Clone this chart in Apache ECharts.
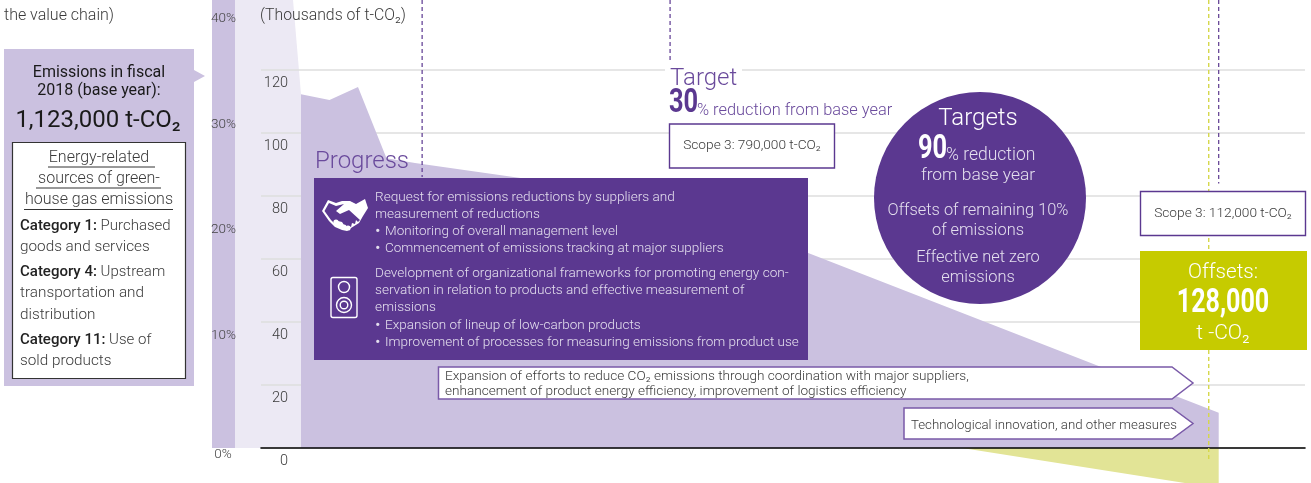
<!DOCTYPE html>
<html>
<head>
<meta charset="utf-8">
<style>html,body{margin:0;padding:0;background:#fff}#c{width:1311px;height:483px}</style>
<script src="https://cdn.jsdelivr.net/npm/echarts@6/dist/echarts.min.js"></script>
</head>
<body>
<div id="c"></div>
<script>
// Timeline position of each reading (steps along the unlabelled x axis)
const timeline = [0, 1, 2, 3, 4, 12.95, 32.2];
const scope3Emissions = [112.3, 110.5, 114.6, 92, 90.5, 79, 11.2];
const paleX = [-2.316, -0.28, 0, 0];
const paleY = [142.2, 142.2, 112.3, 0];
const stripX = [-3.1228, -2.316];
const stripY = [42.42, 42.42];
const offsetX = [23.2, 32.2];
const offsetY = [0, -12.8];
const yTicks = [0, 20, 40, 60, 80, 100, 120];
const shareTicks = [10, 20, 30, 40];
const progressMarkX = 4.25;
const targetMarkX = 12.95;
const offsetMarkX = 31.85;
const finalMarkX = 32.2;

const FONT = 'Roboto';
const PURPLE = '#5b3890';
const LILAC = '#cbc1e0';
const PALE = '#ece9f4';
const OLIVE = '#c6cb00';
const TXT = '#3a3a3a';
const LT = '#e4dfee';

function zip(a, b) { return a.map((v, i) => [v, b[i]]); }
function t(x, y, text, size, fill, o) {
  o = o || {};
  return { type: 'text', z: o.z || 60, x: x, y: y + 1, scaleX: o.scaleX || 1,
    style: Object.assign({ text: text, fill: fill || TXT, fontFamily: FONT, fontSize: size,
      fontWeight: o.weight || 300, textAlign: o.align || 'left', textVerticalAlign: 'middle', verticalAlign: 'middle' }, o.extra || {}) };
}
function box(x, y, w, h, fill, stroke, lw, z) {
  return { type: 'rect', z: z || 50, shape: { x: x, y: y, width: w, height: h },
    style: { fill: fill, stroke: stroke || null, lineWidth: lw || 0 } };
}
function hline(x1, x2, y, col, lw) {
  return { type: 'line', z: 60, shape: { x1: x1, y1: y, x2: x2, y2: y }, style: { stroke: col, lineWidth: lw } };
}
function arrow(x, y1, y2, sx, tip) {
  return { type: 'polygon', z: 50,
    shape: { points: [[x, y1], [sx, y1], [tip, (y1 + y2) / 2], [sx, y2], [x, y2]] },
    style: { fill: '#fff', stroke: '#7a5aa8', lineWidth: 1.5 } };
}
function poly(ox, oy, pts, fill, z) {
  return { type: 'polygon', z: z, shape: { points: pts.map(p => [ox + p[0], oy + p[1]]) }, style: { fill: fill } };
}

const g = [];
// left panel
g.push(t(4, 14.5, 'the value chain)', 16, TXT));
g.push(box(4, 49, 190, 337, LILAC));
g.push({ type: 'polygon', z: 50, shape: { points: [[194, 70], [205, 76], [194, 82]] }, style: { fill: LILAC } });
g.push(t(99, 71.5, 'Emissions in fiscal', 16, '#1a1a1a', { align: 'center', weight: 400 }));
g.push(t(99, 89.5, '2018 (base year):', 16, '#1a1a1a', { align: 'center', weight: 400 }));
g.push(t(98, 120, '1,123,000 t-CO₂', 24, '#1a1a1a', { align: 'center', weight: 400 }));
g.push(box(12.5, 142.5, 173, 236, '#fff', '#333', 1.2));
g.push(t(99, 157, 'Energy-related', 16, TXT, { align: 'center' }));
g.push(t(99, 178, 'sources of green-', 16, TXT, { align: 'center' }));
g.push(t(99, 199, 'house gas emissions', 16, TXT, { align: 'center' }));
g.push(hline(48, 155, 167, '#333', 1));
g.push(hline(36, 161, 188, '#333', 1));
g.push(hline(24, 173, 209.5, '#333', 1));
const catRich = { b: { fontFamily: FONT, fontSize: 15, fontWeight: 500, fill: '#222' }, n: { fontFamily: FONT, fontSize: 15, fontWeight: 300, fill: TXT } };
function cat(y, a, b) {
  return { type: 'text', z: 60, x: 20, y: y + 1, style: { text: '{b|' + a + '}{n|' + b + '}', rich: catRich, verticalAlign: 'middle', textVerticalAlign: 'middle', fontFamily: FONT, fontSize: 15 } };
}
g.push(cat(225, 'Category 1:', ' Purchased'));
g.push(t(20, 246, 'goods and services', 15.3, TXT));
g.push(cat(271, 'Category 4:', ' Upstream'));
g.push(t(20, 292, 'transportation and', 15.3, TXT));
g.push(t(20, 314, 'distribution', 15.3, TXT));
g.push(cat(339, 'Category 11:', ' Use of'));
g.push(t(20, 360, 'sold products', 15.3, TXT));
// misc
g.push(t(223, 453.5, '0%', 13.5, '#444', { align: 'center' }));
g.push(t(260, 15.5, '(Thousands of t-CO₂)', 15.8, TXT));
g.push(t(315, 161, 'Progress', 24, '#6a4a9c', { z: 70 }));
// progress box
g.push(box(314, 178, 494, 182, PURPLE));
const ptxt = [
  [197, 'Request for emissions reductions by suppliers and'],
  [214, 'measurement of reductions'],
  [231, '• Monitoring of overall management level'],
  [248, '• Commencement of emissions tracking at major suppliers'],
  [273, 'Development of organizational frameworks for promoting energy con-'],
  [290, 'servation in relation to products and effective measurement of'],
  [307, 'emissions'],
  [325, '• Expansion of lineup of low-carbon products'],
  [342, '• Improvement of processes for measuring emissions from product use']
];
ptxt.forEach(p => {
  if (p[1][0] === '•') {
    g.push(t(375, p[0], '•', 17, LT));
    g.push(t(385, p[0], p[1].slice(2), 13.5, LT));
  } else {
    g.push(t(375, p[0], p[1], 13.6, LT));
  }
});
// handshake icon
g.push(poly(322, 199, [[0,12],[6,1],[14,4],[20,2],[28,2],[34,5],[43,0],[46,9],[41,17],[37,24],[29,29],[25,32],[20,31],[13,28],[7,22]], '#fff', 60));
g.push(poly(322, 199, [[2.5,12],[7,4],[14,7],[22,5],[14,12],[18,15],[27,11],[38,21],[36,23],[34,21],[33,25],[30,24],[29,28],[26,27],[24,29],[20,23],[16,22],[13,25],[9,21]], PURPLE, 61));
[[14,23],[18,26],[22,28],[26,29]].forEach(c => g.push({ type: 'circle', z: 62, shape: { cx: 322 + c[0], cy: 199 + c[1], r: 2.6 }, style: { fill: '#fff' } }));
// speaker icon
g.push({ type: 'rect', z: 60, shape: { x: 331, y: 277.5, width: 26, height: 40, r: 2 }, style: { fill: 'none', stroke: '#fff', lineWidth: 1.4 } });
g.push({ type: 'circle', z: 60, shape: { cx: 344, cy: 287, r: 5.5 }, style: { fill: 'none', stroke: '#fff', lineWidth: 1.4 } });
g.push({ type: 'circle', z: 60, shape: { cx: 344, cy: 305, r: 7.5 }, style: { fill: 'none', stroke: '#fff', lineWidth: 1.4 } });
g.push({ type: 'circle', z: 60, shape: { cx: 344, cy: 305, r: 3.8 }, style: { fill: 'none', stroke: '#fff', lineWidth: 1.4 } });
// target
g.push(box(665, 62, 77, 16, '#fff', null, 0, 40));
g.push(t(670, 78, 'Target', 24, '#6a4a9c'));
g.push(t(669, 103, '30', 33, PURPLE, { weight: 700, scaleX: 0.77 }));
g.push(t(697, 110, '% reduction from base year', 16.4, '#6a4a9c'));
g.push(box(669.5, 124, 165, 44, '#fff', '#5b3890', 1.4));
g.push(t(752, 145, 'Scope 3: 790,000 t-CO₂', 13.7, TXT, { align: 'center' }));
// targets circle
g.push({ type: 'circle', z: 50, shape: { cx: 980, cy: 198, r: 106 }, style: { fill: PURPLE } });
g.push(t(978, 118, 'Targets', 24, '#fff', { align: 'center' }));
g.push(t(918, 149, '90', 33, '#fff', { weight: 700, scaleX: 0.77 }));
g.push(t(946, 155, '% reduction', 17.5, LT));
g.push(t(978, 175, 'from base year', 17.4, LT, { align: 'center' }));
g.push(t(978, 210, 'Offsets of remaining 10%', 16.4, LT, { align: 'center' }));
g.push(t(978, 230, 'of emissions', 16.4, LT, { align: 'center' }));
g.push(t(978, 257, 'Effective net zero', 16.4, LT, { align: 'center' }));
g.push(t(978, 277, 'emissions', 16.4, LT, { align: 'center' }));
// right boxes
g.push(box(1140.5, 191.5, 165, 44, '#fff', '#5b3890', 1.4));
g.push(t(1223, 213, 'Scope 3: 112,000 t-CO₂', 13.7, TXT, { align: 'center' }));
g.push(box(1140, 251, 167, 99, OLIVE));
g.push(t(1223, 272, 'Offsets:', 20.6, '#fff', { align: 'center' }));
g.push(t(1223, 303, '128,000', 33, '#fff', { align: 'center', weight: 700, scaleX: 0.76 }));
g.push(t(1223, 333, 't -CO₂', 21, '#fff', { align: 'center' }));
// arrows
g.push(arrow(438.5, 367, 399, 1172, 1193));
g.push(t(445, 376, 'Expansion of efforts to reduce CO₂ emissions through coordination with major suppliers,', 13.6, TXT));
g.push(t(445, 390.5, 'enhancement of product energy efficiency, improvement of logistics efficiency', 13.6, TXT));
g.push(arrow(904, 408, 439, 1172, 1193));
g.push(t(911, 425, 'Technological innovation, and other measures', 13.25, TXT));

const option = {
  animation: false,
  backgroundColor: '#fff',
  textStyle: { fontFamily: FONT },
  grid: [
    { left: 261, right: 6, top: 70, bottom: 35, containLabel: false },
    { left: 212, width: 89, top: 0, bottom: 35, containLabel: false }
  ],
  xAxis: [
    { type: 'value', gridIndex: 0, min: -1.4035, max: 35.228, z: 3, axisLabel: { show: false }, axisTick: { show: false }, splitLine: { show: false },
      axisLine: { show: true, onZero: true, lineStyle: { color: '#000', width: 1.6 } } },
    { type: 'value', gridIndex: 1, min: -3.1228, max: 0, show: false, splitLine: { show: false } }
  ],
  yAxis: [
    { type: 'value', gridIndex: 0, min: 0, max: 120, interval: 20, z: 1, axisLine: { show: false }, axisTick: { show: false },
      splitLine: { show: true, lineStyle: { color: '#dedede', width: 1.6 } },
      axisLabel: { show: true, color: TXT, fontSize: 14.5, fontWeight: 300, fontFamily: FONT, align: 'right', margin: -27, verticalAlign: 'top', padding: [6, 0, 0, 0],
        formatter: v => yTicks.includes(v) ? String(v) : '' } },
    { type: 'value', gridIndex: 1, min: 0, max: 42.42, interval: 10, z: 1, axisLine: { show: false }, axisTick: { show: false }, splitLine: { show: false },
      axisLabel: { show: true, color: '#444', fontSize: 13.5, fontWeight: 300, fontFamily: FONT, align: 'center', margin: -11.5, verticalAlign: 'bottom',
        formatter: v => shareTicks.includes(v) ? v + '%' : '' } },
    { type: 'value', gridIndex: 1, min: 0, max: 142.2, show: false, splitLine: { show: false } }
  ],
  series: [
    { name: 'share strip', type: 'line', xAxisIndex: 1, yAxisIndex: 1, data: zip(stripX, stripY), showSymbol: false, lineStyle: { width: 0 }, areaStyle: { color: LILAC, opacity: 1 }, z: 0 },
    { name: 'earlier', type: 'line', xAxisIndex: 1, yAxisIndex: 2, data: zip(paleX, paleY), showSymbol: false, lineStyle: { width: 0 }, areaStyle: { color: PALE, opacity: 1 }, z: 0 },
    { name: 'Scope 3', type: 'line', data: zip(timeline, scope3Emissions), clip: false, showSymbol: false, lineStyle: { width: 0 }, areaStyle: { color: LILAC, opacity: 1 }, z: 2 },
    { name: 'Offsets', type: 'line', data: zip(offsetX, offsetY), clip: false, showSymbol: false, lineStyle: { width: 0 }, areaStyle: { color: '#e2e496', opacity: 1 }, z: 2 },
    { name: 'mark progress', type: 'line', data: [[progressMarkX, 142.2], [progressMarkX, 86]], clip: false, showSymbol: false, lineStyle: { color: PURPLE, width: 1.2, type: [4, 3] }, z: 3 },
    { name: 'mark target', type: 'line', data: [[targetMarkX, 142.2], [targetMarkX, 122]], clip: false, showSymbol: false, lineStyle: { color: PURPLE, width: 1.2, type: [4, 3] }, z: 3 },
    { name: 'mark offset', type: 'line', data: [[offsetMarkX, 142.2], [offsetMarkX, -4]], clip: false, showSymbol: false, lineStyle: { color: '#d6d84a', width: 1.4, type: [4, 3] }, z: 3 },
    { name: 'mark final', type: 'line', data: [[finalMarkX, 142.2], [finalMarkX, 84]], clip: false, showSymbol: false, lineStyle: { color: PURPLE, width: 1.2, type: [4, 3] }, z: 3 }
  ],
  graphic: { elements: g }
};
const chart = echarts.init(document.getElementById('c'), null, { renderer: 'canvas' });
chart.setOption(option);
</script>
</body>
</html>
